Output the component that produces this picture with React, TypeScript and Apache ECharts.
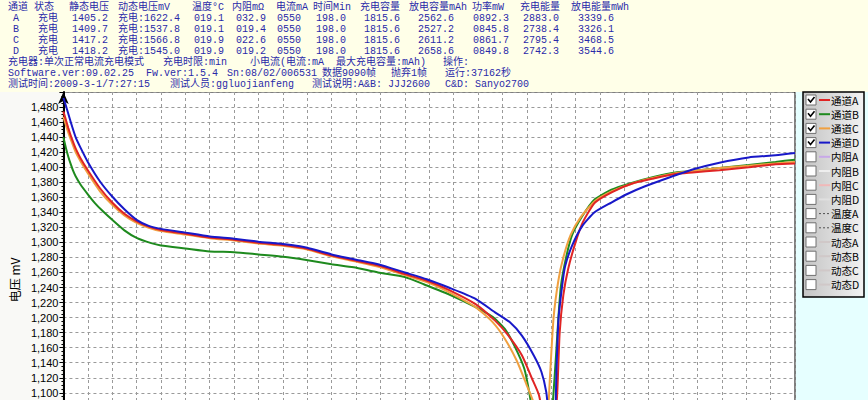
import React, { useEffect, useRef } from "react";
import * as echarts from "echarts";

// ---------- header table data ----------
const headerCols = ["通道", "状态", "静态电压", "动态电压mV", "温度°C", "内阻mΩ", "电流mA", "时间Min", "充电容量", "放电容量mAh", "功率mW", "充电能量", "放电能量mWh"];
const channels = ["A", "B", "C", "D"];
const states = ["充电", "充电", "充电", "充电"];
const staticV = ["1405.2", "1409.7", "1417.2", "1418.2"];
const dynamicV = ["充电:1622.4", "充电:1537.8", "充电:1566.8", "充电:1545.0"];
const temps = ["019.1", "019.1", "019.9", "019.9"];
const resist = ["032.9", "019.4", "022.6", "019.2"];
const currents = ["0550", "0550", "0550", "0550"];
const times = ["198.0", "198.0", "198.0", "198.0"];
const chargeCap = ["1815.6", "1815.6", "1815.6", "1815.6"];
const dischargeCap = ["2562.6", "2527.2", "2611.2", "2658.6"];
const power = ["0892.3", "0845.8", "0861.7", "0849.8"];
const chargeEnergy = ["2883.0", "2738.4", "2795.4", "2742.3"];
const dischargeEnergy = ["3339.6", "3326.1", "3468.5", "3544.6"];

const infoLine1 = ["充电器:单次正常电流充电模式", "充电时限:min", "小电流(电流:mA", "最大充电容量:mAh)", "操作:"];
const infoLine2 = ["Software.ver:09.02.25", "Fw.ver:1.5.4", "Sn:08/02/006531", "数据9090帧", "抛弃1帧", "运行:37162秒"];
const infoLine3 = ["测试时间:2009-3-1/7:27:15", "测试人员:ggluojianfeng", "测试说明:A&B: JJJ2600", "C&D: Sanyo2700"];

// ---------- legend data ----------
const legendNames = ["通道A", "通道B", "通道C", "通道D", "内阻A", "内阻B", "内阻C", "内阻D", "温度A", "温度C", "动态A", "动态B", "动态C", "动态D"];
const legendChecked = [true, true, true, true, false, false, false, false, false, false, false, false, false, false];
const legendColors = ["#e02424", "#1e8a1e", "#f0a040", "#1818c8", "#c8a8e8", "#eeeeee", "#f0b8b8", "#e0e0e0", "#505050", "#505050", "#d0c8c8", "#d0c8c8", "#d0c8c8", "#d0c8c8"];
const legendDashed = [false, false, false, false, false, false, false, false, true, true, false, false, false, false];

// ---------- curve data: [minutes, mV] ----------
const channelA: [number, number][] = [
  [0, 1474], [1, 1463], [2, 1452], [3, 1442], [5, 1425], [7, 1412], [10, 1396], [15, 1372], [20, 1353],
  [25, 1338], [30, 1328], [35, 1321], [40, 1316.5], [50, 1311.5], [60, 1306.5], [70, 1303.5], [80, 1299.5],
  [90, 1296.5], [100, 1291.5], [110, 1282.5], [120, 1275.5], [130, 1268.5], [140, 1258], [150, 1248],
  [158, 1237], [169, 1218], [177, 1196], [182, 1178], [188, 1150], [192, 1120], [195, 1097], [197, 1060],
  [199, 1020], [201, 1030], [202.5, 1100], [203.5, 1180], [205, 1230], [207, 1265], [210, 1300], [213, 1327],
  [218, 1353], [225, 1367], [233, 1378], [242, 1385], [251, 1391], [258, 1393], [269, 1396], [281, 1400],
  [292, 1404], [300, 1405],
];
const channelB: [number, number][] = [
  [0, 1440], [1, 1426], [2, 1414], [3, 1404], [4, 1395], [5, 1388], [7, 1377], [10, 1364], [13, 1352],
  [16, 1342], [20, 1330], [25, 1316], [30, 1306], [36, 1299], [40, 1296], [50, 1292], [60, 1288], [70, 1287],
  [80, 1284], [90, 1281], [99, 1277], [110, 1271], [119, 1267], [129, 1260], [140, 1254], [148, 1244],
  [158, 1231], [169, 1214], [176, 1201], [181, 1185], [185, 1162], [189, 1132], [191, 1101], [193, 1060],
  [195, 1020], [198, 1010], [200, 1060], [201, 1101], [202, 1150], [203, 1201], [204, 1242], [206, 1278],
  [208.5, 1309], [212.6, 1334], [217.8, 1357], [224.7, 1370], [233, 1379], [242, 1387], [251, 1393],
  [258, 1395], [269, 1399], [281, 1403], [292, 1407], [300, 1410],
];
const channelC: [number, number][] = [
  [0, 1467], [1, 1456], [2, 1446], [3, 1437], [5, 1420], [7, 1408], [10, 1392], [15, 1368], [20, 1350],
  [25, 1336], [30, 1326], [35, 1319.5], [40, 1315], [50, 1310.5], [60, 1305.5], [70, 1302.5], [80, 1298.5],
  [90, 1295.5], [100, 1290.5], [110, 1281.5], [120, 1274.5], [130, 1267], [140, 1256.5], [150, 1246],
  [158, 1234], [169, 1214], [176, 1194], [181, 1172], [186, 1142], [190, 1110], [193, 1085], [195, 1050],
  [197, 1020], [198.5, 1060], [199.5, 1120], [201, 1200], [203, 1250], [205, 1280], [208, 1310], [212, 1333],
  [218, 1355], [225, 1368], [233, 1378], [242, 1386], [251, 1392], [258, 1395], [269, 1399], [281, 1402],
  [292, 1405], [300, 1407],
];
const channelD: [number, number][] = [
  [0, 1492], [1, 1482], [2, 1471], [3, 1460], [5, 1440], [7, 1426], [10, 1407], [15, 1381], [20, 1361],
  [25, 1344], [30, 1330], [35, 1322], [40, 1318], [50, 1313], [60, 1308], [70, 1305], [80, 1301], [90, 1298],
  [97, 1295], [100, 1293], [110, 1284], [120, 1277], [129, 1271], [140, 1260], [149, 1251], [158, 1240],
  [169, 1225], [177, 1207], [183, 1194], [188, 1176], [193, 1149], [196, 1128], [198, 1101], [200, 1050],
  [201.5, 1060], [202.2, 1130], [203, 1198], [204.5, 1242], [205.7, 1268], [208.5, 1295], [212.6, 1321],
  [217.8, 1340], [224.7, 1353], [231, 1364], [238, 1374], [249, 1387], [258, 1397], [269, 1406], [281, 1413],
  [292, 1416], [300, 1419],
];

const TEXT_BLUE = "#2a2aa8";
const MIXED = '"Liberation Mono", "Noto Sans CJK SC", monospace';
const CJK = '"Noto Sans CJK SC", sans-serif';

function txt(x: number, y: number, text: string, color: string = TEXT_BLUE) {
  return {
    type: "text",
    x,
    y,
    z: 20,
    style: {
      text,
      fill: color,
      fontSize: 10,
      lineHeight: 11,
      fontFamily: MIXED,
      align: "left",
      verticalAlign: "middle",
      textAlign: "left",
      textVerticalAlign: "middle",
    },
  };
}

export default function App() {
  const ref = useRef<HTMLDivElement>(null);
  useEffect(() => {
    if (!ref.current) return;
    const chart = echarts.init(ref.current, undefined, { renderer: "svg" });

    const headerX = [8, 34, 69, 118, 192, 232, 276, 313, 360, 409, 472, 520, 571];
    const valueX = [13, 38, 72, 118, 194, 236, 277, 316, 364, 418, 473, 523, 578];
    const rowY = [18, 29, 40, 51];
    const cols = [channels, states, staticV, dynamicV, temps, resist, currents, times, chargeCap, dischargeCap, power, chargeEnergy, dischargeEnergy];

    const graphics: any[] = [];
    graphics.push({ type: "rect", z: 0, shape: { x: 0, y: 0, width: 868, height: 92 }, style: { fill: "#ffffe8" } });
    graphics.push({ type: "rect", z: 0, shape: { x: 796, y: 92, width: 72, height: 400 }, style: { fill: "#e6ffff" } });

    headerCols.forEach((h, i) => graphics.push(txt(headerX[i], 7, h)));
    cols.forEach((col, ci) => {
      col.forEach((v, ri) => graphics.push(txt(valueX[ci], rowY[ri], v)));
    });
    const l1x = [8, 163, 250, 336, 443];
    infoLine1.forEach((t, i) => graphics.push(txt(l1x[i], 62, t)));
    const l2x = [8, 146, 227, 322, 391, 445];
    infoLine2.forEach((t, i) => graphics.push(txt(l2x[i], 73, t)));
    const l3x = [8, 170, 312, 445];
    infoLine3.forEach((t, i) => graphics.push(txt(l3x[i], 84, t)));

    // legend box
    graphics.push({
      type: "rect",
      z: 10,
      shape: { x: 803, y: 92, width: 61, height: 205 },
      style: {
        fill: new echarts.graphic.LinearGradient(0, 0, 1, 0, [
          { offset: 0, color: "#c4c4c4" },
          { offset: 1, color: "#f2f2f2" },
        ]),
        stroke: "#000",
        lineWidth: 1.5,
      },
    });
    legendNames.forEach((name, i) => {
      const y = 100 + i * 14.2;
      graphics.push({ type: "rect", z: 11, shape: { x: 806, y: y - 5, width: 10, height: 10 }, style: { fill: "#fff", stroke: "#707070", lineWidth: 1 } });
      if (legendChecked[i]) {
        graphics.push({ type: "polyline", z: 12, shape: { points: [[808, y - 1], [810.5, y + 2], [814.5, y - 3]] }, style: { stroke: "#000", lineWidth: 1.6, fill: "none" } });
      }
      graphics.push({
        type: "line",
        z: 11,
        shape: { x1: 819, y1: y, x2: 830, y2: y },
        style: { stroke: legendColors[i], lineWidth: legendDashed[i] ? 1 : 2, lineDash: legendDashed[i] ? [2, 2] : null },
      });
      graphics.push({
        type: "text",
        x: 831,
        y,
        z: 20,
        style: {
          text: name,
          fill: "#000",
          fontSize: 10.5,
          lineHeight: 12,
          fontFamily: CJK,
          align: "left",
          verticalAlign: "middle",
          textAlign: "left",
          textVerticalAlign: "middle",
        },
      });
    });

    const mk = (name: string, data: [number, number][], color: string) => ({
      name,
      type: "line",
      data,
      showSymbol: false,
      smooth: 0.2,
      lineStyle: { color, width: 2 },
      itemStyle: { color },
    });

    chart.setOption({
      animation: false,
      backgroundColor: "#f9f9f6",
      grid: {
        left: 52,
        top: 92,
        width: 743,
        height: 376,
        show: true,
        backgroundColor: "#ffffff",
        borderColor: "#000",
        borderWidth: 1,
      },
      xAxis: {
        type: "value",
        min: 0,
        max: 300,
        interval: 10,
        axisLabel: { show: false },
        axisTick: { show: false },
        axisLine: { show: false },
        splitLine: { show: true, lineStyle: { color: "#9a9a9a", type: [3, 3], width: 1 } },
      },
      yAxis: {
        type: "value",
        min: 1000,
        max: 1500,
        interval: 20,
        name: "电压 mV",
        nameLocation: "middle",
        nameGap: 36,
        nameRotate: 90,
        nameTextStyle: { fontSize: 12, color: "#000", fontFamily: CJK },
        axisLine: { show: true, lineStyle: { color: "#000", width: 2 }, symbol: ["none", "arrow"], symbolSize: [8, 12] },
        axisTick: { show: true, length: 4, lineStyle: { color: "#000" } },
        minorTick: { show: true, splitNumber: 4, length: 2, lineStyle: { color: "#000" } },
        axisLabel: {
          showMaxLabel: false,
          showMinLabel: false,
          color: "#000",
          fontSize: 11,
          fontFamily: '"Liberation Sans", Arial, sans-serif',
          margin: 5,
          formatter: (v: number) => (v < 1100 ? "" : v.toLocaleString("en-US")),
        },
        splitLine: { show: true, lineStyle: { color: "#9a9a9a", type: [3, 3], width: 1 } },
      },
      series: [
        mk("通道B", channelB, "#1e8a1e"),
        mk("通道C", channelC, "#f0a040"),
        mk("通道A", channelA, "#e02424"),
        mk("通道D", channelD, "#1818c8"),
      ],
      graphic: graphics,
    });
    return () => chart.dispose();
  }, []);
  return <div ref={ref} style={{ position: "fixed", left: 0, top: 0, width: 868, height: 480 }} />;
}
